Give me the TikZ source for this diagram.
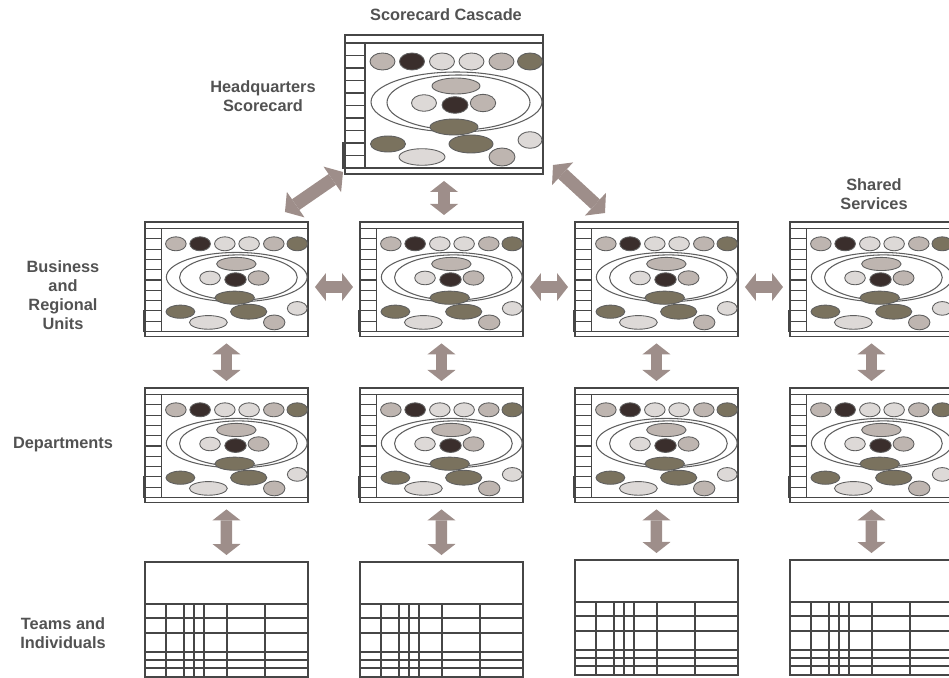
\documentclass[tikz,border=0pt]{standalone}
\usepackage{fontspec}
\setmainfont{Liberation Sans}
\usetikzlibrary{arrows.meta,calc}

\definecolor{cardln}{RGB}{70,70,70}
\definecolor{blobln}{RGB}{95,95,95}
\definecolor{lightc}{RGB}{221,217,215}
\definecolor{beigec}{RGB}{190,181,176}
\definecolor{darkc}{RGB}{58,46,44}
\definecolor{olivec}{RGB}{122,114,94}
\definecolor{arrowc}{RGB}{158,142,138}
\definecolor{lblc}{RGB}{82,82,82}

\tikzset{
  cardrule/.style={draw=cardln,line width=0.7pt},
  tabrule/.style={draw=cardln,line width=0.65pt},
  ring/.style={draw=blobln,line width=0.6pt},
  blob/.style={draw=blobln,line width=0.5pt},
  lbl/.style={font=\bfseries\fontsize{9.3}{10.8}\selectfont,text=lblc,align=center},
  casc/.style={arrowc,line width=2.3mm,shorten <=1.4mm,shorten >=1.4mm,
    {Triangle[width=5.6mm,length=2.2mm,line width=0pt]}-{Triangle[width=5.6mm,length=2.2mm,line width=0pt]}},
  bigcasc/.style={arrowc,line width=2.6mm,
    {Triangle[width=6.2mm,length=2.6mm,line width=0pt]}-{Triangle[width=6.2mm,length=2.6mm,line width=0pt]}},
  % one scorecard, 198 x 139 px, y going down
  scard/.pic={
    \draw[cardrule] (0,0) rectangle (198,139);
    \draw[cardrule] (0,8) -- (198,8) (0,133) -- (198,133) (20,8) -- (20,133);
    \foreach \r in {1,...,9}
      \draw[cardrule] (0,8+12.5*\r) -- (20,8+12.5*\r);
    \draw[cardrule] (0,108) -| (-2,133) -- (0,133);
    % rings
    \draw[ring] (111.5,67) ellipse [x radius=85.5,y radius=30];
    \draw[ring] (113.5,67.5) ellipse [x radius=71.5,y radius=27.5];
    % top row
    \foreach \x/\c in {37.5/beigec,67/darkc,97/lightc,126.5/lightc,156.5/beigec,185/olivec}
      \draw[blob,fill=\c] (\x,26.5) ellipse [x radius=12.5,y radius=8.5];
    % the others
    \foreach \x/\y/\rx/\ry/\c in {111/51/24/8/beigec,79/68/12.5/8.3/lightc,
        110/70/13/8.3/darkc,138/68/12.7/8.7/beigec,109/92/24/8/olivec,
        43/109/17.5/8/olivec,77/122/23/8.3/lightc,126/109/22/9/olivec,
        157/122/13/9/beigec,185/105/12/8.3/lightc}
      \draw[blob,fill=\c] (\x,\y) ellipse [x radius=\rx,y radius=\ry];
    \coordinate (-nw) at (0,0);
    \coordinate (-ne) at (198,0);
    \coordinate (-sw) at (0,139);
    \coordinate (-se) at (198,139);
    \coordinate (-n) at (99,0);
    \coordinate (-s) at (99,139);
    \coordinate (-w) at (0,79);
    \coordinate (-e) at (198,79);
  },
  % one team sheet
  tcard/.pic={
    \draw[tabrule] (0,0) rectangle (163,115);
    \foreach \y in {42,56,71,90,98,106}
      \draw[tabrule] (0,\y) -- (163,\y);
    \foreach \x in {21,39,49,59,82,120}
      \draw[tabrule] (\x,42) -- (\x,115);
    \coordinate (-n) at (81.5,0);
  }
}

\begin{document}
\begin{tikzpicture}[x=0.2mm,y=-0.2mm]
  \useasboundingbox (0,0) rectangle (949,678);
  \clip (0,0) rectangle (949,678);

  %% the cards
  \pic (hq) at (345,35) {scard};
  \foreach \i/\x in {1/145,2/360,3/575,4/790}
  {
    \pic[scale=0.823] (bu\i) at (\x,222) {scard};
    \pic[scale=0.823] (dp\i) at (\x,388) {scard};
  }
  \foreach \i/\x/\y in {1/145/562,2/360/562,3/575/560,4/790/560}
    \pic (tm\i) at (\x,\y) {tcard};

  %% the arrows
  \draw[bigcasc] ([shift={(-2,-2)}]hq-sw) -- ([shift={(-23,-10)}]bu1-ne);
  \draw[bigcasc] ([shift={(10,-9)}]hq-se) -- ([shift={(30,-9)}]bu3-nw);
  \draw[casc] (hq-s) -- (hq-s |- bu2-n);
  \foreach \i/\j in {1/2,2/3,3/4}
    \draw[casc] (bu\i-e) -- (bu\j-w);
  \foreach \i in {1,...,4}
  {
    \draw[casc] (bu\i-s) -- (dp\i-n);
    \draw[casc] (dp\i-s) -- (tm\i-n);
  }

  %% the labels
  \node[lbl] (cascade) at (446,15) {Scorecard Cascade};
  \node[lbl] (hqtxt) at (263,96) {Headquarters\\Scorecard};
  \node[lbl] (shared) at (874,194) {Shared\\Services};
  \node[lbl] (units) at (63,295) {Business\\and\\Regional\\Units};
  \node[lbl] (depts) at (63,445) {Departments};
  \node[lbl] (teams) at (63,633) {Teams and\\Individuals};
\end{tikzpicture}
\end{document}
